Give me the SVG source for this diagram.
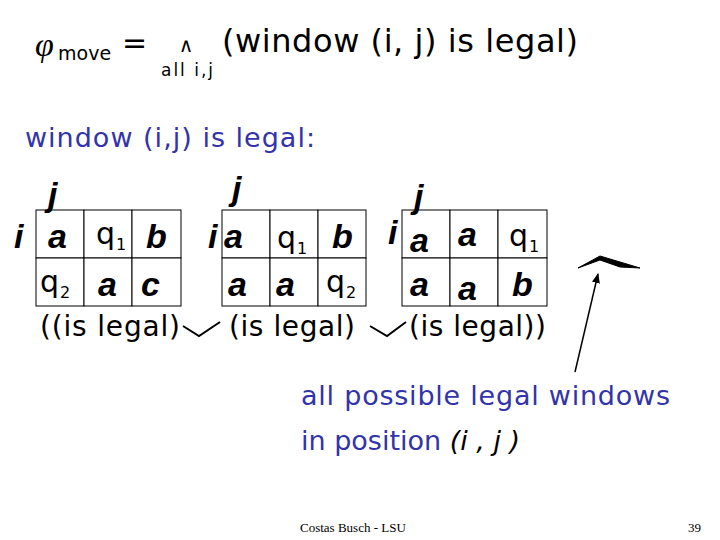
<svg xmlns="http://www.w3.org/2000/svg" width="720" height="540" viewBox="0 0 720 540">
<defs>
<style>
.c{fill:#fff;stroke:#000;stroke-width:1}
.b{font-family:"DejaVu Sans",sans-serif;fill:#3333aa;font-size:27px}
.v{font-family:"Liberation Sans",sans-serif;font-weight:bold;font-style:italic;font-size:34px;fill:#000}
.q{font-family:"DejaVu Sans",sans-serif;font-size:30px;fill:#000}
.qs{font-family:"DejaVu Sans",sans-serif;font-size:16px;fill:#000}
.f{font-family:"Liberation Serif",serif;font-size:13px;fill:#000}
</style>
<marker id="ah" markerWidth="10" markerHeight="10" refX="9" refY="5" orient="auto" markerUnits="userSpaceOnUse"><path d="M0,1 L10,5 L0,9 z" fill="#000"/></marker>
</defs>
<rect width="720" height="540" fill="#fff"/>
<g id="formula">
<text x="35" y="56" font-family="Liberation Serif,serif" font-style="italic" font-size="34">φ</text>
<text x="58" y="60" font-family="DejaVu Sans,sans-serif" font-size="19">move</text>
<text x="122" y="53" font-family="DejaVu Sans,sans-serif" font-size="30">=</text>
<text x="186" y="52" font-family="DejaVu Sans,sans-serif" font-size="20" text-anchor="middle">∧</text>
<text x="161" y="76" font-family="DejaVu Sans,sans-serif" font-size="17" textLength="52">all i,j</text>
<text x="222" y="52" font-family="DejaVu Sans,sans-serif" font-size="32" textLength="356">(window (i, j) is legal)</text>
</g>
<text x="25" y="147" class="b" textLength="290">window (i,j) is legal:</text>
<g id="grid1">
<rect class="c" x="36" y="210" width="48" height="48"/><rect class="c" x="84" y="210" width="48" height="48"/><rect class="c" x="132" y="210" width="49" height="48"/>
<rect class="c" x="36" y="258" width="48" height="48"/><rect class="c" x="84" y="258" width="48" height="48"/><rect class="c" x="132" y="258" width="49" height="48"/>
<text class="v" x="48" y="206">j</text><text class="v" x="14" y="248">i</text>
<text class="v" x="48" y="248">a</text><text class="q" x="96" y="244">q</text><text class="qs" x="116" y="250">1</text><text class="v" x="146" y="248">b</text>
<text class="q" x="40" y="292">q</text><text class="qs" x="60" y="298">2</text><text class="v" x="98" y="296">a</text><text class="v" x="141" y="296">c</text>
</g>
<g id="grid2">
<rect class="c" x="222" y="210" width="48" height="48"/><rect class="c" x="270" y="210" width="48" height="48"/><rect class="c" x="318" y="210" width="48" height="48"/>
<rect class="c" x="222" y="258" width="48" height="48"/><rect class="c" x="270" y="258" width="48" height="48"/><rect class="c" x="318" y="258" width="48" height="48"/>
<text class="v" x="232" y="200">j</text><text class="v" x="208" y="248">i</text>
<text class="v" x="224" y="248">a</text><text class="q" x="277" y="248">q</text><text class="qs" x="297" y="254">1</text><text class="v" x="332" y="248">b</text>
<text class="v" x="228" y="296">a</text><text class="v" x="276" y="296">a</text><text class="q" x="326" y="292">q</text><text class="qs" x="346" y="298">2</text>
</g>
<g id="grid3">
<rect class="c" x="402" y="210" width="48" height="48"/><rect class="c" x="450" y="210" width="48" height="48"/><rect class="c" x="498" y="210" width="49" height="48"/>
<rect class="c" x="402" y="258" width="48" height="48"/><rect class="c" x="450" y="258" width="48" height="48"/><rect class="c" x="498" y="258" width="49" height="48"/>
<text class="v" x="414" y="208">j</text><text class="v" x="388" y="244">i</text>
<text class="v" x="410" y="252">a</text><text class="v" x="458" y="246">a</text><text class="q" x="509" y="246">q</text><text class="qs" x="529" y="252">1</text>
<text class="v" x="410" y="296">a</text><text class="v" x="458" y="300">a</text><text class="v" x="512" y="296">b</text>
</g>
<g id="labels" font-family="DejaVu Sans,sans-serif" font-size="28">
<text x="40" y="336" textLength="140">((is legal)</text>
<text x="229" y="336" textLength="126">(is legal)</text>
<text x="409" y="336" textLength="137">(is legal))</text>
</g>
<g id="connectors" fill="none" stroke="#000" stroke-width="2">
<path d="M183,326 L199,336 L220,322"/>
<path d="M370,326 L387,336 L406,322"/>
<path d="M578,268 L600,256 L640,268 L620,267 L600,260 Z" fill="#000" stroke-width="1"/>
<line x1="575" y1="372" x2="598" y2="274" stroke-width="1.5" marker-end="url(#ah)"/>
</g>
<text x="301" y="405" class="b" textLength="369">all possible legal windows</text>
<text x="301" y="450" class="b">in position <tspan font-family="DejaVu Sans,sans-serif" font-style="italic" fill="#000">(i , j )</tspan></text>
<text x="300" y="532" class="f">Costas Busch - LSU</text>
<text x="688" y="532" class="f">39</text>
</svg>
